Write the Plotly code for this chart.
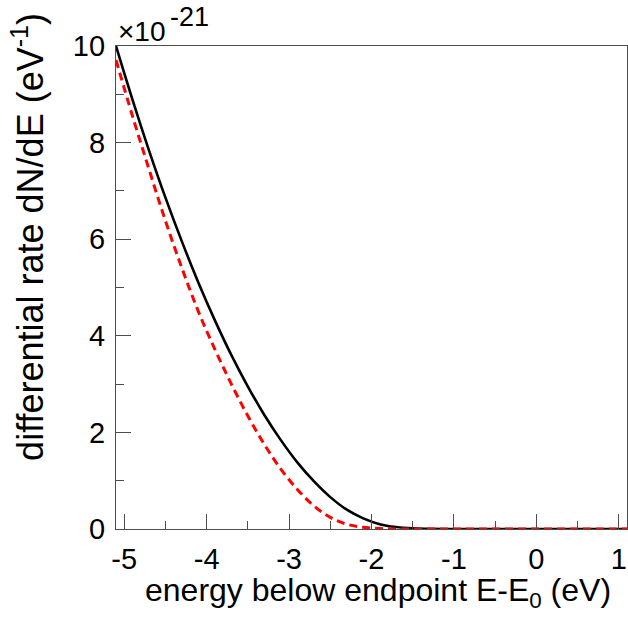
import plotly.graph_objects as go

# energy below endpoint (eV)
energy = [-5.1, -4.9, -4.7, -4.5, -4.3, -4.1, -3.9, -3.7, -3.5, -3.3, -3.1,
          -2.9, -2.7, -2.5, -2.3, -2.1, -1.9, -1.7, -1.5, -1.3, -1.1, -0.9,
          -0.5, 0.0, 0.5, 1.1]
# differential rate (units of 1e-21 eV^-1), black solid
rate_black = [10.0, 8.89, 7.84, 6.86, 5.95, 5.10, 4.32, 3.60, 2.95, 2.36, 1.84,
              1.38, 0.99, 0.66, 0.40, 0.22, 0.10, 0.04, 0.012, 0.003, 0.0, 0.0,
              0.0, 0.0, 0.0, 0.0]
# differential rate (units of 1e-21 eV^-1), red dashed
rate_red = [9.71, 8.55, 7.45, 6.38, 5.40, 4.50, 3.72, 3.00, 2.34, 1.75, 1.24,
            0.82, 0.48, 0.24, 0.10, 0.035, 0.01, 0.002, 0.0, 0.0, 0.0, 0.0,
            0.0, 0.0, 0.0, 0.0]

x_tickvals = [-5, -4, -3, -2, -1, 0, 1]
x_ticktext = ["-5", "-4", "-3", "-2", "-1", "0", "1"]
y_tickvals = [0, 2, 4, 6, 8, 10]
y_ticktext = ["0", "2", "4", "6", "8", "10"]

FONT = "Liberation Sans, Arial, sans-serif"

fig = go.Figure()
fig.add_trace(go.Scatter(x=energy, y=rate_black, mode="lines",
                         line=dict(color="black", width=2.6, shape="spline"),
                         showlegend=False))
fig.add_trace(go.Scatter(x=energy, y=rate_red, mode="lines",
                         line=dict(color="#ff0000", width=3, dash="8px,5px", shape="spline"),
                         showlegend=False))

axis_common = dict(showgrid=False, zeroline=False, showline=True, mirror=True,
                   linecolor="#4d4d4d", linewidth=1.2, ticks="inside",
                   tickcolor="#4d4d4d", tickwidth=1, automargin=False,
                   tickfont=dict(family=FONT, size=29, color="black"))

fig.update_xaxes(range=[-5.1, 1.1], tickmode="array", tickvals=x_tickvals,
                 ticktext=x_ticktext, ticklen=15, ticklabelstandoff=4,
                 minor=dict(ticks="inside", ticklen=8, dtick=0.5, tick0=0,
                            tickcolor="#4d4d4d", tickwidth=1),
                 **axis_common)
fig.update_yaxes(range=[0, 10], tickmode="array", tickvals=y_tickvals,
                 ticktext=y_ticktext, ticklen=15, ticklabelstandoff=4,
                 minor=dict(ticks="inside", ticklen=8, dtick=1, tick0=0,
                            tickcolor="#4d4d4d", tickwidth=1),
                 **axis_common)

fig.update_layout(
    width=628, height=620,
    margin=dict(l=116, r=1, t=46, b=91, autoexpand=False),
    plot_bgcolor="white", paper_bgcolor="white",
    font=dict(family=FONT, color="black"),
    annotations=[
        dict(text="energy below endpoint E-E<sub>0</sub> (eV)", xref="paper", yref="paper",
             x=0.972, y=-0.085, xanchor="right", yanchor="top", showarrow=False,
             font=dict(family=FONT, size=32, color="black")),
        dict(text="differential rate dN/dE (eV<sup>-1</sup>)", xref="paper", yref="paper",
             x=-0.172, y=0.605, xanchor="center", yanchor="middle", textangle=-90,
             showarrow=False, font=dict(family=FONT, size=36, color="black")),
        dict(text="×10", xref="paper", yref="paper", x=0.0, y=1.0,
             xanchor="left", yanchor="bottom", showarrow=False, yshift=-3,
             font=dict(family=FONT, size=28, color="black")),
        dict(text="-21", xref="paper", yref="paper", x=0.101, y=1.0,
             xanchor="left", yanchor="bottom", showarrow=False, yshift=12,
             font=dict(family=FONT, size=27, color="black")),
    ],
)

fig.write_html("out.html", config={"displayModeBar": False},
               post_script="document.body.style.margin='0';document.body.style.overflow='hidden';")
